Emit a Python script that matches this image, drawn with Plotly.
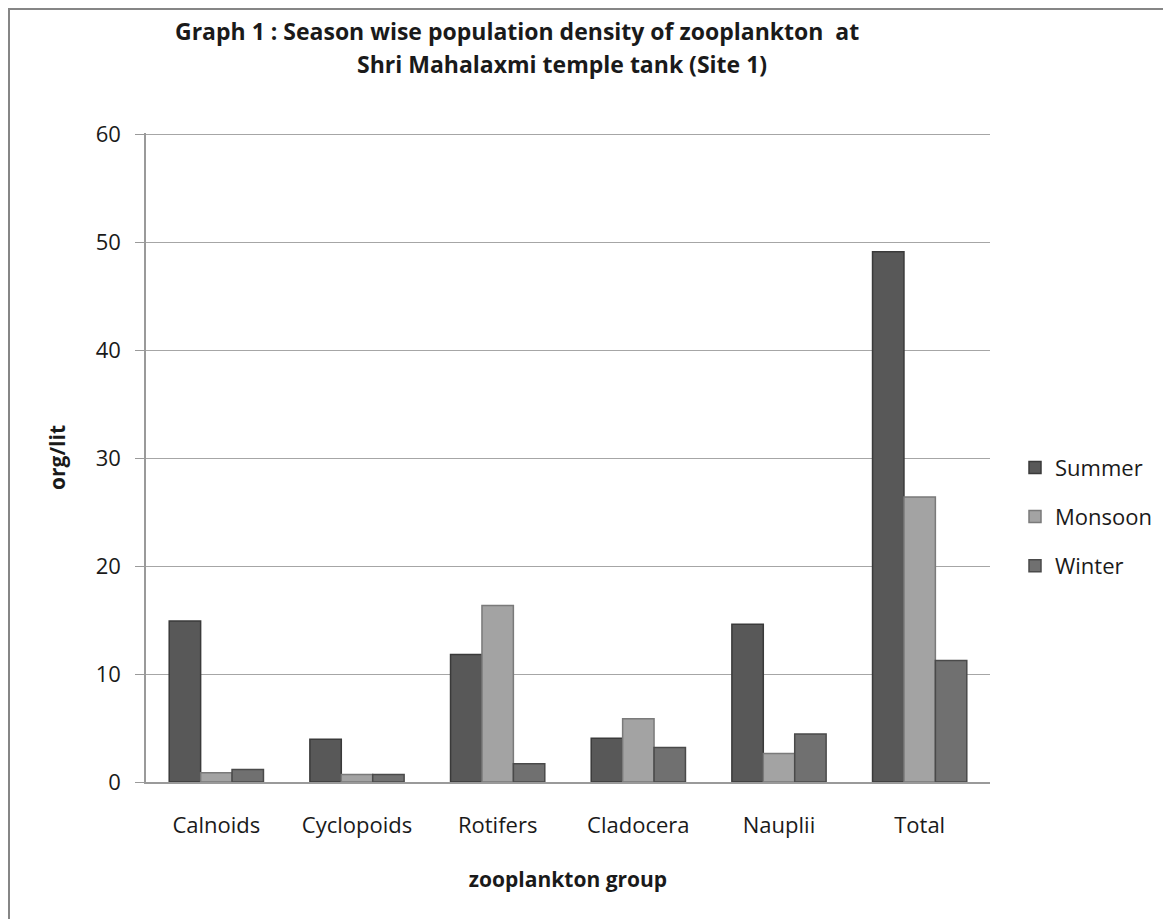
import plotly.graph_objects as go

categories = ["Calnoids", "Cyclopoids", "Rotifers", "Cladocera", "Nauplii", "Total"]
summer = [14.9, 3.95, 11.8, 4.05, 14.6, 49.1]
monsoon = [0.85, 0.7, 16.35, 5.85, 2.65, 26.4]
winter = [1.15, 0.7, 1.7, 3.2, 4.45, 11.25]
y_ticks = [0, 10, 20, 30, 40, 50, 60]

series = [
    ("Summer", summer, "#585858", "#3a3a3a"),
    ("Monsoon", monsoon, "#a3a3a3", "#7a7a7a"),
    ("Winter", winter, "#707070", "#4a4a4a"),
]

FONT = "Open Sans, Lato, sans-serif"

fig = go.Figure()
for name, vals, col, edge in series:
    fig.add_trace(go.Bar(
        name=name, x=categories, y=vals,
        marker=dict(color=col, line=dict(color=edge, width=1.5)),
        legendgroup=name,
    ))

# page is drawn with an 8px body margin, so work in page coords minus 8
OFF = 8
W, H = 1171, 919
plot_left, plot_right = 146 - OFF, 990 - OFF
plot_top, plot_bottom = 133.4 - OFF, 782.3 - OFF
L, R, T, B = plot_left, W - plot_right, plot_top, H - plot_bottom
pw, ph = plot_right - plot_left, plot_bottom - plot_top

def px_x(p):
    return (p - OFF - L) / pw

def px_y(p):
    return (H - B - (p - OFF)) / ph

fig.update_layout(
    width=W, height=H,
    margin=dict(l=L, r=R, t=T, b=B, autoexpand=False),
    paper_bgcolor="white", plot_bgcolor="white",
    barmode="group", bargap=0.33, bargroupgap=0,
    font=dict(family=FONT, color="#1a1a1a"),
    showlegend=True,
    legend=dict(
        x=px_x(1015), y=px_y(447), xanchor="left", yanchor="top",
        font=dict(size=22, family=FONT, color="#1a1a1a"),
        tracegroupgap=17.5, bgcolor="rgba(0,0,0,0)",
        itemwidth=30,
    ),
    xaxis=dict(
        showline=True, linecolor="#9a9a9a", linewidth=1.5,
        ticks="", tickfont=dict(size=22, family=FONT, color="#1a1a1a"),
        title=dict(text="<b>zooplankton group</b>", font=dict(size=21, family=FONT), standoff=34),
        ticklabelstandoff=23,
    ),
    yaxis=dict(
        range=[0, 60.1], tickvals=y_ticks, showgrid=True, gridcolor="#a6a6a6", gridwidth=1,
        showline=True, linecolor="#9a9a9a", linewidth=1.5, zeroline=False,
        ticks="outside", ticklen=9, tickcolor="#9a9a9a",
        tickfont=dict(size=22, family=FONT, color="#1a1a1a"),
        ticklabelstandoff=10,
        title=dict(text="<b>org/lit</b>", font=dict(size=21, family=FONT), standoff=24),
    ),
    annotations=[
        dict(text="<b>Graph 1 : Season wise population density of zooplankton  at</b>",
             x=px_x(517), y=px_y(31), xref="paper", yref="paper", showarrow=False,
             xanchor="center", yanchor="middle",
             font=dict(size=23, family=FONT, color="#1a1a1a")),
        dict(text="<b>Shri Mahalaxmi temple tank (Site 1)</b>",
             x=px_x(562), y=px_y(64), xref="paper", yref="paper", showarrow=False,
             xanchor="center", yanchor="middle",
             font=dict(size=23, family=FONT, color="#1a1a1a")),
    ],
    shapes=[
        dict(type="rect", xref="paper", yref="paper",
             x0=px_x(9), x1=px_x(1200), y0=px_y(940), y1=px_y(9.5),
             line=dict(color="#868686", width=2), fillcolor="rgba(0,0,0,0)", layer="below"),
    ],
)

fig.write_html("out.html")
